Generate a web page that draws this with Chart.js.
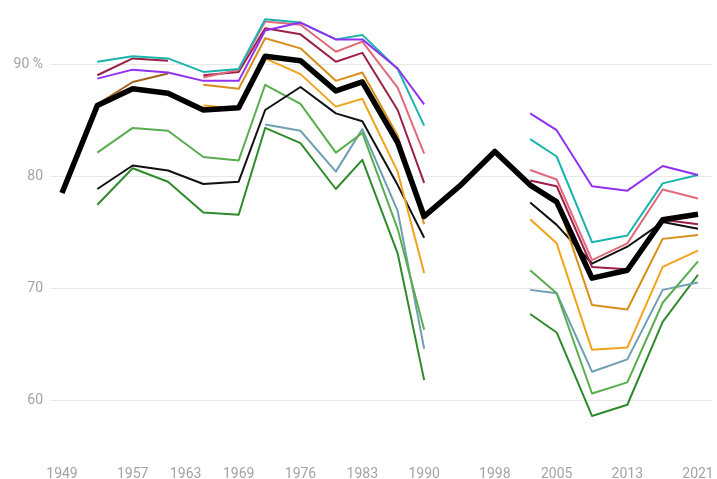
<!DOCTYPE html>
<html>
<head>
<meta charset="utf-8">
<script src="https://cdn.jsdelivr.net/npm/chart.js@4/dist/chart.umd.min.js"></script>
<style>
html,body{margin:0;padding:0;background:#fff;}
canvas{display:block;}
</style>
</head>
<body>
<canvas id="c" width="717" height="479"></canvas>
<script>
// Election years (x values)
const years = [1949,1953,1957,1961,1965,1969,1972,1976,1980,1983,1987,1990,1994,1998,2002,2005,2009,2013,2017,2021];
const xTickYears = [1949,1957,1963,1969,1976,1983,1990,1998,2005,2013,2021];
const yTickValues = [60,70,80,90];

// Turnout (%) per series
const total       = [78.5,86.3,87.8,87.4,85.9,86.1,90.7,90.3,87.6,88.4,83.0,76.4,79.1,82.2,79.2,77.7,70.9,71.6,76.1,76.6];
const purple      = [null,88.7,89.5,89.25,88.5,88.5,93.0,93.7,92.2,92.2,89.6,86.4,null,null,85.6,84.1,79.1,78.7,80.9,80.1];
const teal        = [null,90.2,90.7,90.5,89.3,89.55,94.0,93.7,92.2,92.6,89.55,84.5,null,null,83.3,81.75,74.1,74.7,79.35,80.1];
const pink        = [null,null,null,null,88.8,89.5,93.8,93.5,91.1,92.0,87.9,82.0,null,null,80.55,79.7,72.5,74.0,78.8,78.0];
const maroon      = [null,null,null,null,89.0,89.3,93.2,92.65,90.2,91.0,85.9,79.4,null,null,79.6,79.1,71.9,71.7,76.1,75.7];
const maroonOld   = [null,89.0,90.5,90.3,null,null,null,null,null,null,null,null,null,null,null,null,null,null,null,null];
const brownOld    = [null,86.4,88.4,89.15,null,null,null,null,null,null,null,null,null,null,null,null,null,null,null,null];
const darkOrange  = [null,null,null,null,88.15,87.8,92.3,91.4,88.5,89.25,83.6,75.7,null,null,79.0,77.9,68.5,68.1,74.4,74.75];
const lightOrange = [null,null,null,null,86.3,86.0,90.5,89.1,86.2,86.9,80.4,71.35,null,null,76.15,74.0,64.5,64.7,71.9,73.35];
const thinBlack   = [null,78.85,80.95,80.5,79.3,79.5,85.9,87.95,85.6,84.9,79.2,74.5,null,null,77.65,75.65,72.2,73.7,75.9,75.3];
const lightGreen  = [null,82.1,84.3,84.05,81.7,81.4,88.15,86.45,82.1,83.85,75.3,66.3,null,null,71.6,69.55,60.6,61.6,68.7,72.4];
const blueGray    = [null,null,null,null,null,null,84.6,84.05,80.4,84.2,76.9,64.6,null,null,69.85,69.55,62.55,63.65,69.85,70.5];
const darkGreen   = [null,77.45,80.7,79.5,76.75,76.55,84.3,82.95,78.85,81.45,73.1,61.8,null,null,67.7,66.05,58.6,59.6,67.0,71.2];

function pts(arr){ return years.map((y,i)=>({x:y,y:arr[i]})); }
function ds(label, arr, color, width){
  return {label, data: pts(arr), borderColor: color, backgroundColor: color,
          borderWidth: width, pointRadius: 0, tension: 0, spanGaps: false,
          borderJoinStyle: 'round', borderCapStyle: 'butt', fill: false};
}

Chart.defaults.font.family = 'Roboto, "Noto Sans", sans-serif';
Chart.defaults.font.size = 14;
Chart.defaults.color = '#a3a3a3';

new Chart(document.getElementById('c'), {
  type: 'line',
  data: {
    datasets: [
      ds('Insgesamt', total, '#000000', 5.5),
      ds('A', purple, '#9130f2', 2),
      ds('B', teal, '#1ab4ac', 2),
      ds('C', pink, '#e0697b', 2),
      ds('D', maroon, '#9c1f46', 2),
      ds('D0', maroonOld, '#9c1f46', 2),
      ds('E0', brownOld, '#a5621c', 2),
      ds('E', darkOrange, '#d88e18', 2),
      ds('F', lightOrange, '#f2a31c', 2),
      ds('G', thinBlack, '#111111', 2),
      ds('H', lightGreen, '#5aad4e', 2),
      ds('I', blueGray, '#6e9fb2', 2),
      ds('J', darkGreen, '#2f8a2c', 2)
    ]
  },
  options: {
    responsive: false,
    animation: false,
    devicePixelRatio: 1,
    layout: {padding: {top: 8, right: 5, left: 0, bottom: 0}},
    plugins: {legend: {display: false}, tooltip: {enabled: false}},
    scales: {
      x: {
        type: 'linear',
        min: 1947.755,
        max: 2022.585,
        grid: {display: false, drawTicks: false},
        border: {display: false},
        afterBuildTicks: s => { s.ticks = xTickYears.map(v => ({value: v})); },
        afterFit: s => { s.height = 22.7; s.paddingLeft = 0; s.paddingRight = 0; },
        ticks: {padding: 10, maxRotation: 0, autoSkip: false, callback: v => String(v)}
      },
      y: {
        type: 'linear',
        min: 55,
        max: 95,
        grid: {color: '#e8e8e8', lineWidth: 1, drawTicks: false},
        border: {display: false},
        afterBuildTicks: s => { s.ticks = yTickValues.map(v => ({value: v})); },
        afterFit: s => { s.width = 51; s.paddingTop = 0; s.paddingBottom = 0; },
        ticks: {padding: 8, callback: v => (v === 90 ? '90 %' : String(v))}
      }
    }
  }
});
</script>
</body>
</html>
